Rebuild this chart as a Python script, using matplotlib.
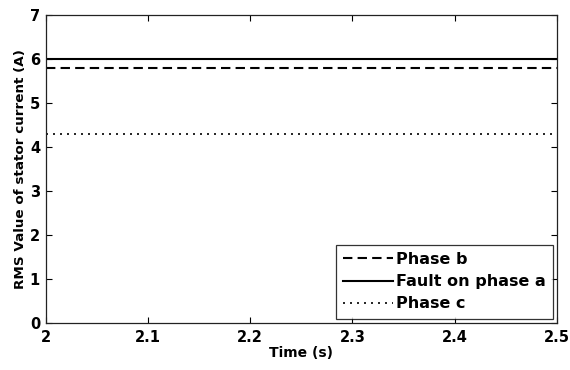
import matplotlib
matplotlib.use("Agg")
import matplotlib.pyplot as plt
import numpy as np

plt.rcParams['font.family'] = ['DejaVu Sans']

time = [2.0, 2.5]
phase_b = [5.78, 5.78]
fault_a = [6.0, 6.0]
phase_c = [4.28, 4.28]
xticks = [2, 2.1, 2.2, 2.3, 2.4, 2.5]
xticklabels = ['2', '2.1', '2.2', '2.3', '2.4', '2.5']
yticks = [0, 1, 2, 3, 4, 5, 6, 7]

fig = plt.figure(figsize=(5.7, 3.7), dpi=100)
ax = fig.add_axes([0.080, 0.128, 0.897, 0.832])

ax.plot(time, phase_b, color='black', linestyle=(0, (4.5, 2.5)), linewidth=1.5, label='Phase b')
ax.plot(time, fault_a, color='black', linestyle='-', linewidth=1.5, label='Fault on phase a')
ax.plot(time, phase_c, color='black', linestyle=(0, (1.2, 3.0)), linewidth=1.2, label='Phase c')

ax.set_xlim(2, 2.5)
ax.set_ylim(0, 7)
ax.set_xticks(xticks)
ax.set_xticklabels(xticklabels)
ax.set_yticks(yticks)
ax.tick_params(direction='in', top=True, right=True, length=4, width=0.8,
               labelsize=10.5)
ax.tick_params(axis='x', pad=5)
ax.tick_params(axis='y', pad=4)
for lbl in ax.get_xticklabels() + ax.get_yticklabels():
    lbl.set_fontweight('bold')
for s in ax.spines.values():
    s.set_linewidth(0.9)
    s.set_color('#222222')

ax.set_xlabel('Time (s)', fontsize=10, fontweight='bold', labelpad=1)
ax.set_ylabel('RMS Value of stator current (A)', fontsize=9.7, fontweight='bold', labelpad=2)

leg = ax.legend(loc='lower right', prop={'weight': 'bold', 'size': 11.5},
                frameon=True, fancybox=False, edgecolor='black', borderaxespad=0.25,
                handlelength=3.1, handletextpad=0.2, labelspacing=0.45, borderpad=0.45)
leg.get_frame().set_linewidth(0.9)

fig.savefig('out.png', dpi=100)
